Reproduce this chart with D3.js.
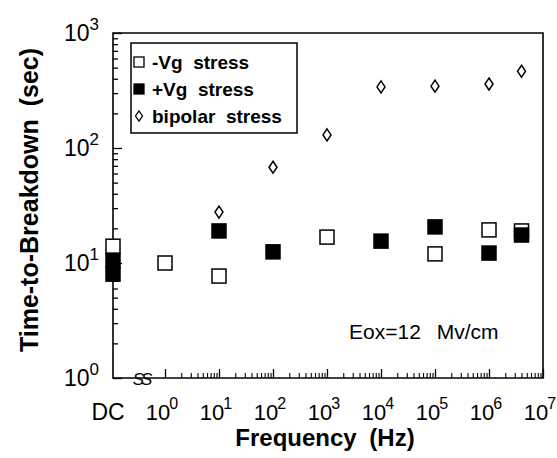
<!DOCTYPE html>
<html>
<head>
<meta charset="utf-8">
<script src="https://cdn.jsdelivr.net/npm/d3@7"></script>
<style>
  body { margin: 0; background: #fff; }
  text { font-family: "Liberation Sans", Arial, sans-serif; fill: #000; }
</style>
</head>
<body>
<div id="chart"></div>
<script>
// frequencies (Hz); 'DC' is placed on the y axis
const negFreq = ['DC', 1, 10, 1e3, 1e5, 1e6, 4e6];
const negVals = [14, 10, 7.7, 16.8, 12, 19.4, 19];

const posFreq = ['DC', 'DC', 10, 100, 1e4, 1e5, 1e6, 4e6];
const posVals = [10.5, 8, 19, 12.5, 15.5, 20.6, 12.2, 17.5];

const bipFreq = [10, 100, 1e3, 1e4, 1e5, 1e6, 4e6];
const bipVals = [27.7, 68, 130, 340, 345, 360, 465];

const yTickExp = [0, 1, 2, 3];
const xTickExp = [0, 1, 2, 3, 4, 5, 6, 7];
const legendLabels = ['-Vg  stress', '+Vg  stress', 'bipolar  stress'];

const width = 557, height = 458;
const plotLeft = 113, plotRight = 543, plotTop = 33, plotBottom = 378;

const svg = d3.select('#chart').append('svg')
    .attr('width', width)
    .attr('height', height);

// scales
const xScale = d3.scaleLog().domain([1, 1e7]).range([165, plotRight]);
const yScale = d3.scaleLog().domain([1, 1000]).range([plotBottom, plotTop]);
const xPos = function (f) { return f === 'DC' ? plotLeft : xScale(f); };

// minor tick values
function minors(from, to) {
    const out = [];
    for (let e = from; e < to; e++) {
        for (let m = 2; m <= 9; m++) out.push(m * Math.pow(10, e));
    }
    return out;
}

// y axis ticks (pointing inward)
svg.append('g')
    .attr('transform', `translate(${plotLeft},0)`)
    .call(d3.axisLeft(yScale).tickValues(minors(0, 3)).tickSize(-5).tickFormat(''))
    .call(g => g.select('.domain').remove())
    .selectAll('line').attr('stroke-width', 1.3);
svg.append('g')
    .attr('transform', `translate(${plotLeft},0)`)
    .call(d3.axisLeft(yScale).tickValues(yTickExp.map(e => Math.pow(10, e))).tickSize(-9).tickFormat(''))
    .call(g => g.select('.domain').remove())
    .selectAll('line').attr('stroke-width', 1.3);

// x axis ticks (pointing up)
svg.append('g')
    .attr('transform', `translate(0,${plotBottom})`)
    .call(d3.axisBottom(xScale).tickValues(minors(0, 7)).tickSize(-5).tickFormat(''))
    .call(g => g.select('.domain').remove())
    .selectAll('line').attr('stroke-width', 1.1);
svg.append('g')
    .attr('transform', `translate(0,${plotBottom})`)
    .call(d3.axisBottom(xScale).tickValues(xTickExp.map(e => Math.pow(10, e))).tickSize(-9).tickFormat(''))
    .call(g => g.select('.domain').remove())
    .selectAll('line').attr('stroke-width', 1.3);

// frame
svg.append('path')
    .attr('d', `M${plotLeft},${plotTop}H${plotRight}V${plotBottom}H${plotLeft}Z`)
    .attr('fill', 'none')
    .attr('stroke', '#000')
    .attr('stroke-width', 1.6);

// axis break mark
svg.append('text')
    .attr('x', 141).attr('y', 385)
    .attr('text-anchor', 'middle')
    .style('font-size', '17px')
    .style('font-style', 'italic')
    .style('letter-spacing', '-3px')
    .text('SS');

// y tick labels
const yLab = svg.append('g').selectAll('text')
    .data(yTickExp).enter().append('text')
    .attr('x', 99)
    .attr('y', d => yScale(Math.pow(10, d)) + 8)
    .attr('text-anchor', 'end')
    .style('font-size', '23px');
yLab.append('tspan').text('10');
yLab.append('tspan').attr('dy', -11).style('font-size', '17px').text(d => d);

// x tick labels
const xLab = svg.append('g').selectAll('text')
    .data(xTickExp).enter().append('text')
    .attr('x', d => xScale(Math.pow(10, d)) - 3)
    .attr('y', 420)
    .attr('text-anchor', 'middle')
    .style('font-size', '22px');
xLab.append('tspan').text('10');
xLab.append('tspan').attr('dy', -11).attr('dx', -1).style('font-size', '16px').text(d => d);

svg.append('text')
    .attr('x', 108).attr('y', 420)
    .attr('text-anchor', 'middle')
    .style('font-size', '23px')
    .text('DC');

// axis titles
svg.append('text')
    .attr('x', 325).attr('y', 446)
    .attr('text-anchor', 'middle')
    .style('font-size', '24px')
    .style('font-weight', 'bold')
    .style('word-spacing', '6px')
    .text('Frequency (Hz)');

svg.append('text')
    .attr('transform', 'translate(38,200) rotate(-90)')
    .attr('text-anchor', 'middle')
    .style('font-size', '25px')
    .style('font-weight', 'bold')
    .style('word-spacing', '6px')
    .text('Time-to-Breakdown (sec)');

// annotation
svg.append('text')
    .attr('x', 349).attr('y', 339)
    .style('font-size', '21px')
    .style('word-spacing', '10px')
    .text('Eox=12 Mv/cm');

// markers
const sq = 14;
function squares(freqs, vals, fill) {
    svg.append('g').selectAll('rect')
        .data(vals).enter().append('rect')
        .attr('x', (d, i) => xPos(freqs[i]) - sq / 2)
        .attr('y', d => yScale(d) - sq / 2)
        .attr('width', sq).attr('height', sq)
        .attr('fill', fill)
        .attr('stroke', '#000')
        .attr('stroke-width', 1.5);
}
function diamond(cx, cy, w, h) {
    return `M${cx},${cy - h / 2}L${cx + w / 2},${cy}L${cx},${cy + h / 2}L${cx - w / 2},${cy}Z`;
}
squares(negFreq, negVals, '#fff');
squares(posFreq, posVals, '#000');

svg.append('g').selectAll('path')
    .data(bipVals).enter().append('path')
    .attr('d', (d, i) => diamond(xPos(bipFreq[i]), yScale(d), 8, 12))
    .attr('fill', '#fff')
    .attr('stroke', '#000')
    .attr('stroke-width', 1.5);

// legend
const legend = svg.append('g');
legend.append('rect')
    .attr('x', 131).attr('y', 43)
    .attr('width', 166).attr('height', 90)
    .attr('fill', '#fff')
    .attr('stroke', '#000')
    .attr('stroke-width', 1.5);
const rowY = [62, 89, 116];
legend.append('rect')
    .attr('x', 134).attr('y', rowY[0] - 5).attr('width', 10).attr('height', 10)
    .attr('fill', '#fff').attr('stroke', '#000').attr('stroke-width', 1.3);
legend.append('rect')
    .attr('x', 134).attr('y', rowY[1] - 5).attr('width', 10).attr('height', 10)
    .attr('fill', '#000').attr('stroke', '#000').attr('stroke-width', 1.3);
legend.append('path')
    .attr('d', diamond(139, rowY[2], 7, 10))
    .attr('fill', '#fff').attr('stroke', '#000').attr('stroke-width', 1.3);
legend.selectAll('text.lg')
    .data(legendLabels).enter().append('text')
    .attr('class', 'lg')
    .attr('x', 152)
    .attr('y', (d, i) => rowY[i] + 7)
    .style('font-size', '19px')
    .style('font-weight', 'bold')
    .style('white-space', 'pre')
    .text(d => d);
</script>
</body>
</html>
